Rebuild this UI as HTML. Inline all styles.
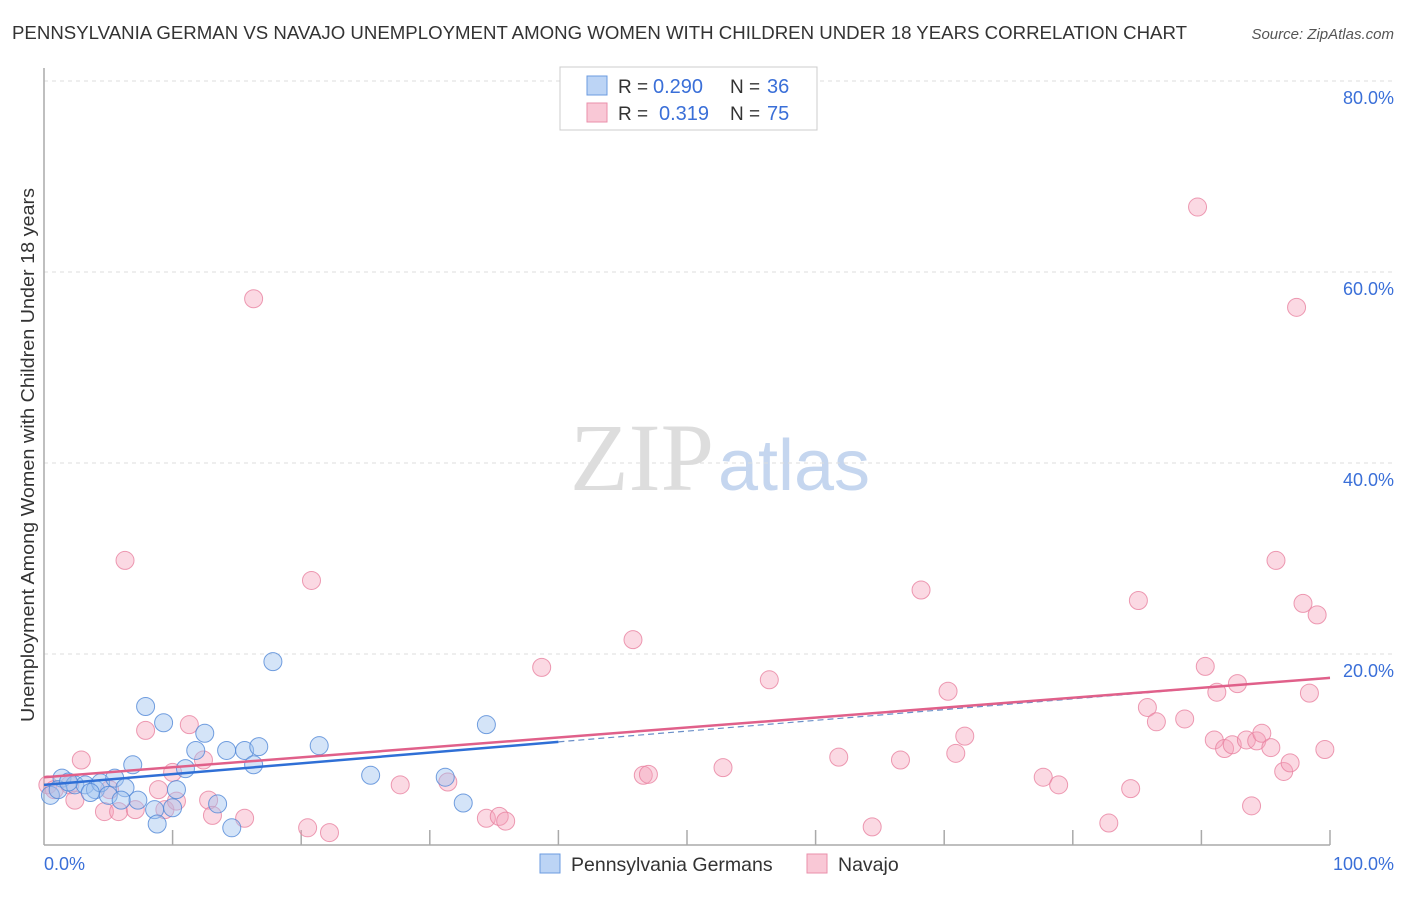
<!DOCTYPE html>
<html><head><meta charset="utf-8"><style>
body{margin:0;background:#fff;font-family:"Liberation Sans",sans-serif;}
</style></head><body>
<svg width="1406" height="892" xmlns="http://www.w3.org/2000/svg" font-family="Liberation Sans, sans-serif">
<text x="12" y="39" font-size="18" fill="#333" textLength="1175" lengthAdjust="spacingAndGlyphs">PENNSYLVANIA GERMAN VS NAVAJO UNEMPLOYMENT AMONG WOMEN WITH CHILDREN UNDER 18 YEARS CORRELATION CHART</text>
<text x="1394" y="39" font-size="15" fill="#555" font-style="italic" text-anchor="end">Source: ZipAtlas.com</text>
<text x="720" y="490" font-size="96" text-anchor="middle"><tspan fill="#ddd" font-family="Liberation Serif, serif">ZIP</tspan><tspan fill="#c5d6ef" font-size="72" dx="4">atlas</tspan></text>
<g id="grid"></g>
<g id="axes"></g>
<g id="pts"></g>
<g id="lines"></g>
<text transform="translate(34,455) rotate(-90)" font-size="18" fill="#333" text-anchor="middle" textLength="534" lengthAdjust="spacingAndGlyphs">Unemployment Among Women with Children Under 18 years</text>
<text x="44" y="870" font-size="18" fill="#3a6fd8">0.0%</text>
<text x="1394" y="870" font-size="18" fill="#3a6fd8" text-anchor="end">100.0%</text>
<g>
<rect x="560" y="67" width="257" height="63" fill="#fff" stroke="#ccc"/>
<rect x="587" y="76" width="20" height="19" fill="#bcd4f5" stroke="#6b9be0"/>
<rect x="587" y="103" width="20" height="19" fill="#f9c8d6" stroke="#ea8fab"/>
<text x="618" y="93" font-size="19" fill="#333">R =</text>
<text x="653" y="93" font-size="20" fill="#3a6fd8">0.290</text>
<text x="730" y="93" font-size="19" fill="#333">N =</text>
<text x="767" y="93" font-size="20" fill="#3a6fd8">36</text>
<text x="618" y="120" font-size="19" fill="#333">R =</text>
<text x="659" y="120" font-size="20" fill="#3a6fd8">0.319</text>
<text x="730" y="120" font-size="19" fill="#333">N =</text>
<text x="767" y="120" font-size="20" fill="#3a6fd8">75</text>
</g>
<g>
<rect x="540" y="854" width="20" height="19" fill="#bcd4f5" stroke="#6b9be0"/>
<text x="571" y="871" font-size="19.5" fill="#333">Pennsylvania Germans</text>
<rect x="807" y="854" width="20" height="19" fill="#f9c8d6" stroke="#ea8fab"/>
<text x="838" y="871" font-size="19.5" fill="#333">Navajo</text>
</g>
</svg>
<script>
const yTicks=[20,40,60,80];
const yTickLabels=["20.0%","40.0%","60.0%","80.0%"];
const blueX=[0.5,1.4,2.4,3.2,4.0,4.4,5.0,5.5,6.3,6.9,7.3,7.9,8.6,8.8,9.3,10.0,10.3,11.0,11.8,12.5,13.5,14.2,14.6,15.6,16.3,16.7,17.8,21.4,25.4,31.2,32.6,34.4,1.1,1.9,3.6,6.0];
const blueY=[5.2,7.0,6.3,6.3,5.8,6.5,5.2,7.0,6.0,8.4,4.7,14.5,3.7,2.2,12.8,3.9,5.8,8.0,9.9,11.7,4.3,9.9,1.8,9.9,8.4,10.3,19.2,10.4,7.3,7.1,4.4,12.6,5.8,6.6,5.5,4.7];
const pinkX=[0.3,0.8,2.0,2.9,2.4,4.7,5.1,5.8,6.3,7.1,7.9,8.9,9.4,10.0,10.3,11.3,12.4,12.8,13.1,15.6,16.3,20.5,20.8,22.2,27.7,31.4,34.4,35.4,35.9,38.7,45.8,46.6,47.0,52.8,56.4,61.8,64.4,66.6,68.2,70.3,70.9,71.6,77.7,78.9,82.8,84.5,85.1,85.8,86.5,88.7,89.7,90.3,91.0,91.2,91.8,92.4,92.8,93.5,93.9,94.3,94.7,95.4,95.8,96.4,96.9,97.4,97.9,98.4,99.0,99.6];
const pinkY=[6.3,5.8,6.3,8.9,4.7,3.5,5.8,3.5,29.8,3.7,12.0,5.8,3.7,7.6,4.6,12.6,8.9,4.7,3.1,2.8,57.2,1.8,27.7,1.3,6.3,6.6,2.8,3.0,2.5,18.6,21.5,7.3,7.4,8.1,17.3,9.2,1.9,8.9,26.7,16.1,9.6,11.4,7.1,6.3,2.3,5.9,25.6,14.4,12.9,13.2,66.8,18.7,11.0,16.0,10.1,10.5,16.9,11.0,4.1,10.9,11.7,10.2,29.8,7.7,8.6,56.3,25.3,15.9,24.1,10.0];
const X=v=>44+v*12.86, Y=v=>845-v*9.55;
const NS="http://www.w3.org/2000/svg";
function mk(t,a,p){const e=document.createElementNS(NS,t);for(const k in a)e.setAttribute(k,a[k]);p.appendChild(e);return e;}
const grid=document.getElementById('grid');
yTicks.forEach((t,i)=>{
 const l=mk('line',{x1:44,x2:1394,y1:Y(t),y2:Y(t),stroke:'#ddd','stroke-dasharray':'4,4'},grid);
 
 
 const tx=mk('text',{x:1394,y:Y(t)+23,'font-size':18,fill:'#3a6fd8','text-anchor':'end'},grid);
 tx.textContent=yTickLabels[i];
 
 
});
const ax=document.getElementById('axes');
const xa=mk('line',{x1:44,x2:1330,y1:845,y2:845,stroke:'#aaa','stroke-width':1.5},ax);


const ya=mk('line',{x1:44,x2:44,y1:68,y2:845,stroke:'#aaa','stroke-width':1.5},ax);


for(let i=1;i<=10;i++){const t=mk('line',{x1:X(i*10),x2:X(i*10),y1:830,y2:845,stroke:'#aaa','stroke-width':1.5},ax);
 
 }
const pts=document.getElementById('pts');
pinkX.forEach((v,i)=>{const c=mk('circle',{cx:X(v),cy:Y(pinkY[i]),r:9,fill:'rgba(245,160,185,0.4)',stroke:'rgba(232,130,160,0.8)','stroke-width':1},pts);
 
 });
blueX.forEach((v,i)=>{const c=mk('circle',{cx:X(v),cy:Y(blueY[i]),r:9,fill:'rgba(160,195,240,0.45)',stroke:'rgba(80,135,215,0.8)','stroke-width':1},pts);
 
 });
const lines=document.getElementById('lines');
const bI=6.3,bS=0.1125,pI=7.1,pS=0.104;
let e=mk('line',{x1:X(0),y1:Y(bI),x2:X(40),y2:Y(bI+40*bS),stroke:'#2f6fd6','stroke-width':2.5},lines);


e=mk('line',{x1:X(40),y1:Y(bI+40*bS),x2:X(100),y2:Y(bI+100*bS),stroke:'#6b8fc8','stroke-width':1.2,'stroke-dasharray':'6,4'},lines);


e=mk('line',{x1:X(0),y1:Y(pI),x2:X(100),y2:Y(pI+100*pS),stroke:'#e0608a','stroke-width':2.5},lines);


</script>
</body></html>
